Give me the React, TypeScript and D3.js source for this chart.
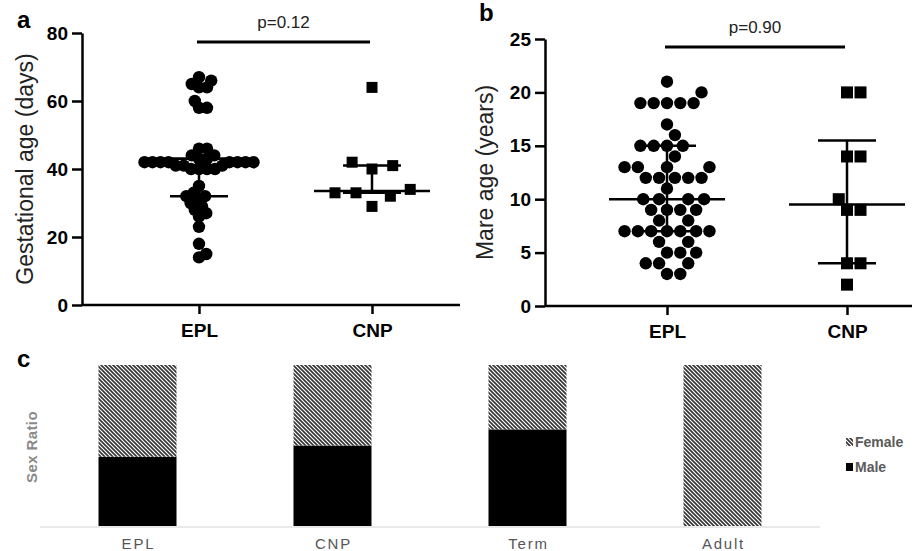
import { useEffect, useRef } from "react";
import * as d3 from "d3";

// panel a + b groups
const groups = ["EPL", "CNP"];

// a: gestational age (days)
const gestEPL = [67, 66, 65, 64, 64, 60, 58, 58, 46, 46, 44, 44, 43, 43, 42, 42, 42, 42, 42, 42, 42, 42, 41, 41, 41, 40, 40, 40, 40, 35, 33, 32, 32, 31, 30, 29, 28, 27, 26, 23, 18, 15, 14];
const gestCNP = [64, 42, 41, 40, 34, 33, 33, 32, 29];
const gestMedian = [43, 33.5];
const gestQ1 = [32, 33];
const gestQ3 = [43, 41];
const gestTicks = [0, 20, 40, 60, 80];

// b: mare age (years)
const mareEPL = [21, 20, 19, 19, 19, 19, 19, 17, 16, 15, 15, 15, 15, 14, 13, 13, 13, 13, 12, 12, 12, 12, 12, 11, 10, 10, 10, 10, 9, 9, 9, 9, 8, 8, 7, 7, 7, 7, 7, 7, 7, 6, 6, 5, 5, 5, 4, 4, 4, 3, 3];
const mareCNP = [20, 20, 14, 14, 10, 9, 9, 4, 4, 2];
const mareMedian = [10, 9.5];
const mareQ1 = [7, 4];
const mareQ3 = [15, 15.5];
const mareTicks = [0, 5, 10, 15, 20, 25];

// c: sex ratio
const stages = ["EPL", "CNP", "Term", "Adult"];
const maleRatio = [0.43, 0.5, 0.6, 0];
const femaleRatio = [0.57, 0.5, 0.4, 1];

const font = "'Liberation Sans', Arial, sans-serif";

// simple beeswarm: each value goes to the free spot nearest the centre
function swarm(vals: number[], y: (v: number) => number, d: number) {
    const placed: { x: number; y: number }[] = [];
    const sorted = vals.slice().sort((a, b) => a - b);
    for (const v of sorted) {
        const py = y(v);
        const cands = [0];
        for (const p of placed) {
            const dy = Math.abs(p.y - py);
            if (dy < d) {
                const dx = Math.sqrt(d * d - dy * dy);
                cands.push(p.x + dx, p.x - dx);
            }
        }
        cands.sort((a, b) => Math.abs(a) - Math.abs(b));
        const x = cands.find(c => placed.every(p => (p.x - c) ** 2 + (p.y - py) ** 2 >= d * d - 0.01)) ?? 0;
        placed.push({ x, y: py });
    }
    return placed;
}

export default function App() {
    const ref = useRef<SVGSVGElement>(null);

    useEffect(() => {
        const svg = d3.select(ref.current);
        svg.selectAll("*").remove();
        svg.attr("font-family", font);

        const defs = svg.append("defs");
        const pat = defs.append("pattern").attr("id", "hatch")
            .attr("patternUnits", "userSpaceOnUse").attr("width", 4).attr("height", 4);
        pat.append("rect").attr("width", 4).attr("height", 4).attr("fill", "#fff");
        pat.append("path").attr("d", "M-1,-1L5,5M-1,3L1,5M3,-1L5,1")
            .attr("stroke", "#333").attr("stroke-width", 1.6);

        const panel = (o: any) => {
            const g = svg.append("g");
            const y = d3.scaleLinear().domain([0, o.max]).range([o.bottom, o.top]);
            const x = d3.scalePoint<string>().domain(groups).range(o.xs);

            const ya = g.append("g")
                .attr("transform", `translate(${o.left},0)`)
                .call(d3.axisLeft(y).tickValues(o.ticks).tickSize(10).tickSizeOuter(0).tickPadding(4));
            ya.attr("font-size", 19).attr("font-family", font).attr("font-weight", "bold");
            ya.select(".domain").attr("stroke-width", 2.5);
            ya.selectAll(".tick line").attr("stroke-width", 2.5);

            const xa = g.append("g")
                .attr("transform", `translate(0,${o.bottom})`)
                .call(d3.axisBottom(x).tickSize(9).tickPadding(10));
            xa.attr("font-size", 19).attr("font-family", font).attr("font-weight", "bold");
            xa.select(".domain").remove();
            xa.selectAll(".tick line").attr("stroke-width", 2.5);
            g.append("line")
                .attr("x1", o.left).attr("x2", o.right)
                .attr("y1", o.bottom).attr("y2", o.bottom)
                .attr("stroke", "#000").attr("stroke-width", 2.5);

            // points
            const epl = swarm(o.epl, y, o.dCirc);
            g.selectAll(".dot").data(epl).join("circle")
                .attr("cx", d => (x("EPL") as number) + d.x)
                .attr("cy", d => d.y)
                .attr("r", 6.2)
                .attr("fill", "#000");
            const cnp = swarm(o.cnp, y, o.dSq);
            g.selectAll(".sq").data(cnp).join("rect")
                .attr("x", d => (x("CNP") as number) + d.x - o.sq / 2)
                .attr("y", d => d.y - o.sq / 2)
                .attr("width", o.sq).attr("height", o.sq)
                .attr("fill", "#000");

            // median + interquartile range
            groups.forEach((k, i) => {
                const cx = x(k) as number;
                const seg = (v: number, hw: number) => g.append("line")
                    .attr("x1", cx - hw).attr("x2", cx + hw)
                    .attr("y1", y(v)).attr("y2", y(v))
                    .attr("stroke", "#000").attr("stroke-width", 2.5);
                seg(o.median[i], 58);
                seg(o.q1[i], 29);
                seg(o.q3[i], 29);
                g.append("line")
                    .attr("x1", cx).attr("x2", cx)
                    .attr("y1", y(o.q1[i])).attr("y2", y(o.q3[i]))
                    .attr("stroke", "#000").attr("stroke-width", 2.5);
            });

            // significance bar
            const x1 = (x("EPL") as number) - 2;
            const x2 = (x("CNP") as number) - 2;
            g.append("line")
                .attr("x1", x1).attr("x2", x2).attr("y1", o.barY).attr("y2", o.barY)
                .attr("stroke", "#000").attr("stroke-width", 3);
            g.append("text")
                .attr("x", (x1 + x2) / 2).attr("y", o.barY - 14)
                .attr("text-anchor", "middle").attr("font-size", 17).attr("fill", "#222")
                .text(o.p);

            g.append("text")
                .attr("transform", `translate(${o.titleX},${(o.top + o.bottom) / 2}) rotate(-90)`)
                .attr("text-anchor", "middle").attr("font-size", 23).attr("fill", "#222")
                .text(o.title);
            g.append("text")
                .attr("x", o.labelX).attr("y", o.labelY)
                .attr("font-size", 24).attr("font-weight", "bold")
                .text(o.label);
        };

        panel({
            max: 80, top: 33, bottom: 305, left: 82, right: 460, xs: [199, 372],
            ticks: gestTicks, epl: gestEPL, cnp: gestCNP,
            median: gestMedian, q1: gestQ1, q3: gestQ3,
            dCirc: 8, dSq: 21, sq: 11, barY: 42, p: "p=0.12",
            title: "Gestational age (days)", titleX: 33, label: "a", labelX: 17, labelY: 28
        });
        panel({
            max: 25, top: 39, bottom: 306, left: 545, right: 912, xs: [667, 847],
            ticks: mareTicks, epl: mareEPL, cnp: mareCNP,
            median: mareMedian, q1: mareQ1, q3: mareQ3,
            dCirc: 13.3, dSq: 13.5, sq: 12, barY: 47, p: "p=0.90",
            title: "Mare age (years)", titleX: 493, label: "b", labelX: 479, labelY: 21
        });

        // panel c: stacked sex ratio bars
        const gc = svg.append("g");
        const xc = d3.scaleBand().domain(stages).range([40, 820]).paddingInner(0.6).paddingOuter(0.3);
        const yc = d3.scaleLinear().domain([0, 1]).range([526, 365]);
        const table = stages.map((s, i) => ({ stage: s, male: maleRatio[i], female: femaleRatio[i] }));
        const stack = d3.stack<any>().keys(["male", "female"])(table);
        const fills: Record<string, string> = { male: "#000", female: "url(#hatch)" };

        gc.selectAll(".layer").data(stack).join("g")
            .attr("fill", d => fills[d.key])
            .selectAll("rect").data(d => d.filter(e => e[1] - e[0] > 0)).join("rect")
            .attr("x", d => xc(d.data.stage) as number)
            .attr("width", xc.bandwidth())
            .attr("y", d => yc(d[1]))
            .attr("height", d => yc(d[0]) - yc(d[1]));

        gc.append("line")
            .attr("x1", 40).attr("x2", 820).attr("y1", 527).attr("y2", 527)
            .attr("stroke", "#d4d4d4").attr("stroke-width", 1);

        gc.selectAll(".cat").data(stages).join("text")
            .attr("x", d => (xc(d) as number) + xc.bandwidth() / 2 + 1)
            .attr("y", 549)
            .attr("text-anchor", "middle")
            .attr("font-family", "'Liberation Sans Narrow', 'Liberation Sans', sans-serif")
            .attr("font-size", 15).attr("letter-spacing", 1.8).attr("fill", "#555")
            .text(d => d);

        gc.append("text")
            .attr("transform", "translate(37,447) rotate(-90)")
            .attr("text-anchor", "middle").attr("font-size", 15).attr("font-weight", "bold")
            .attr("letter-spacing", 0.4).attr("fill", "#8a8a8a")
            .text("Sex Ratio");

        gc.append("text").attr("x", 17).attr("y", 367)
            .attr("font-size", 24).attr("font-weight", "bold").text("c");

        // legend
        const legend = [
            { name: "Female", fill: "url(#hatch)", y: 447 },
            { name: "Male", fill: "#000", y: 472 }
        ];
        const lg = gc.selectAll(".leg").data(legend).join("g");
        lg.append("rect").attr("x", 846).attr("y", d => d.y - 9).attr("width", 7).attr("height", 8)
            .attr("fill", d => d.fill);
        lg.append("text").attr("x", 855).attr("y", d => d.y)
            .attr("font-size", 14).attr("font-weight", "bold").attr("fill", "#5a5a5a")
            .text(d => d.name);
    }, []);

    return (
        <svg ref={ref} width={914} height={551}
            style={{ position: "absolute", left: 0, top: 0, background: "#fff" }} />
    );
}
